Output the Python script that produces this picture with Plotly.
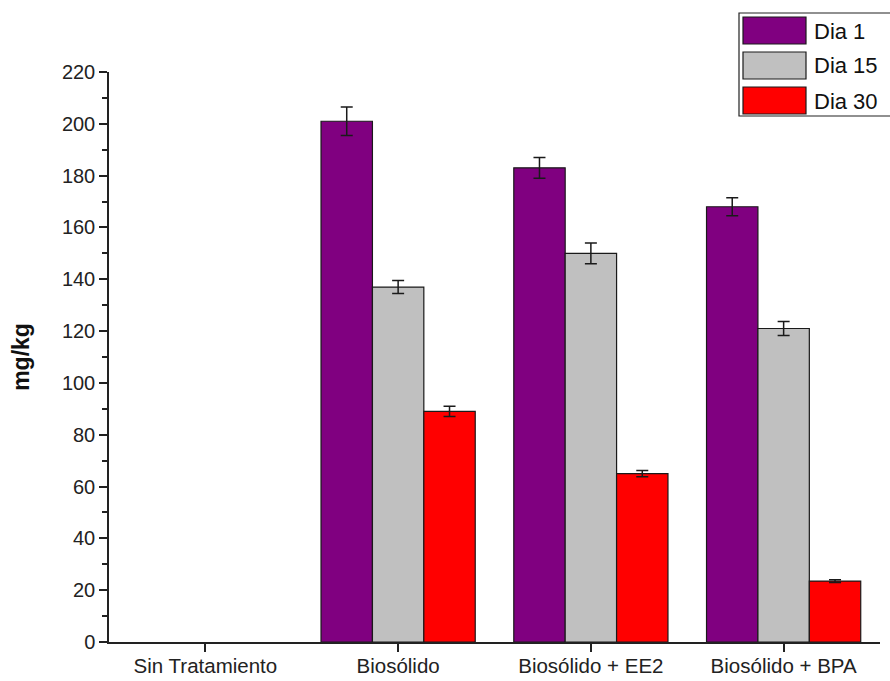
import plotly.graph_objects as go

categories = ["Sin Tratamiento", "Biosólido", "Biosólido + EE2", "Biosólido + BPA"]
series_names = ["Dia 1", "Dia 15", "Dia 30"]
# "Sin Tratamiento" has no measured value, so its bars stay empty
dia1 = [None, 201, 183, 168]
dia15 = [None, 137, 150, 121]
dia30 = [None, 89, 65, 23.5]
err_dia1 = [None, 5.5, 4.0, 3.5]
err_dia15 = [None, 2.5, 4.0, 2.7]
err_dia30 = [None, 2.0, 1.2, 0.5]
colors = ["#800080", "#C0C0C0", "#FF0000"]

FONT = "Liberation Sans, Arial, sans-serif"

fig = go.Figure()
for name, vals, errs, col in zip(series_names, [dia1, dia15, dia30],
                                 [err_dia1, err_dia15, err_dia30], colors):
    fig.add_trace(go.Bar(
        x=categories, y=vals, name=name,
        marker=dict(color=col, line=dict(color="#1a1a1a", width=1.2)),
        error_y=dict(type="data", array=errs, visible=True,
                     color="#1a1a1a", thickness=1.5, width=6),
        showlegend=False,
    ))

# boxed legend with large swatches in the upper right corner
W, H = 890, 681
ml, mr, mt, mb = 109, 10, 72, 39
pw, ph = W - ml - mr, H - mt - mb


def px_x(x):
    return (x - ml) / pw


def px_y(y):
    return 1 - (y - mt) / ph


shapes = [dict(type="rect", xref="paper", yref="paper",
               x0=px_x(739), x1=px_x(905), y0=px_y(116), y1=px_y(13),
               line=dict(color="#222", width=1.2), fillcolor="white", layer="above")]
annotations = []
row_tops = [17, 52, 87]
for top, name, col in zip(row_tops, series_names, colors):
    shapes.append(dict(type="rect", xref="paper", yref="paper",
                       x0=px_x(743), x1=px_x(806), y0=px_y(top + 27), y1=px_y(top),
                       line=dict(color="#1a1a1a", width=1.2), fillcolor=col, layer="above"))
    annotations.append(dict(xref="paper", yref="paper", x=px_x(812), y=px_y(top + 14),
                            text=name, showarrow=False, xanchor="left", yanchor="middle",
                            font=dict(family=FONT, size=22, color="#111")))

fig.update_layout(
    width=W, height=H,
    margin=dict(l=ml, r=mr, t=mt, b=mb),
    paper_bgcolor="white", plot_bgcolor="white",
    barmode="group", bargap=0.2, bargroupgap=0,
    font=dict(family=FONT, size=20, color="#222"),
    shapes=shapes, annotations=annotations,
    xaxis=dict(
        type="category", range=[-0.5, 3.5], automargin=False,
        showline=True, linecolor="#222", linewidth=1.5,
        ticks="outside", ticklen=8, tickwidth=1.5, tickcolor="#222",
        tickfont=dict(size=20.5), ticklabelstandoff=-3,
        showgrid=False, zeroline=False,
    ),
    xaxis2=dict(
        overlaying="x", anchor="y", range=[-0.5, 3.5], automargin=False,
        tickvals=[-0.5, 0.5, 1.5, 2.5, 3.5], showticklabels=False,
        ticks="outside", ticklen=5, tickwidth=1.5, tickcolor="#222",
        showgrid=False, zeroline=False, showline=False, side="bottom",
    ),
    yaxis=dict(
        range=[0, 220], tickvals=list(range(0, 221, 20)), automargin=False,
        showline=True, linecolor="#222", linewidth=1.5,
        ticks="outside", ticklen=8, tickwidth=1.5, tickcolor="#222",
        minor=dict(tickvals=list(range(10, 220, 20)), ticks="outside",
                   ticklen=5, tickwidth=1.5, tickcolor="#222"),
        showgrid=False, zeroline=False, tickfont=dict(size=20),
        title=dict(text="<b>mg/kg</b>", font=dict(size=23, color="#111"), standoff=26),
    ),
)

fig.write_html("out.html")
